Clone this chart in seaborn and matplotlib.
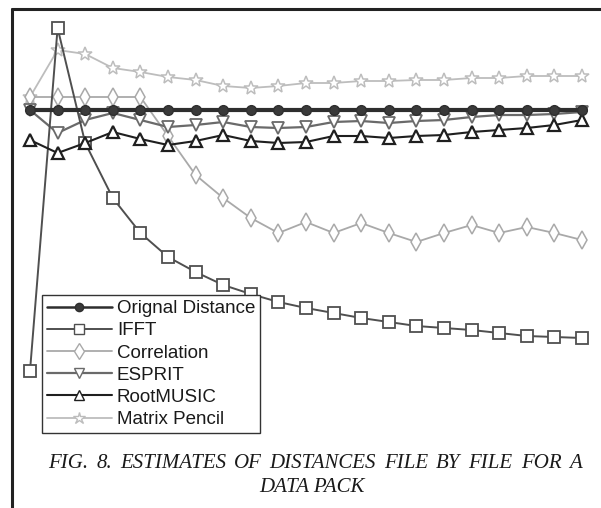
import matplotlib
matplotlib.use("Agg")
import matplotlib.pyplot as plt
from matplotlib.lines import Line2D
import seaborn as sns

# File index and distance estimates per method
files = list(range(1, 22))
original = [6.0] * 21
ifft = [0.78, 7.64, 5.34, 4.24, 3.54, 3.06, 2.76, 2.50, 2.32, 2.16, 2.04,
        1.94, 1.84, 1.76, 1.68, 1.64, 1.60, 1.54, 1.48, 1.46, 1.44]
correlation = [6.26, 6.26, 6.26, 6.26, 6.26, 5.48, 4.70, 4.24, 3.84, 3.54, 3.76,
               3.54, 3.74, 3.54, 3.36, 3.54, 3.70, 3.54, 3.66, 3.54, 3.40]
esprit = [6.00, 5.54, 5.80, 5.94, 5.80, 5.66, 5.70, 5.76, 5.66, 5.64, 5.66,
          5.76, 5.78, 5.74, 5.78, 5.80, 5.86, 5.90, 5.90, 5.92, 5.96]
rootmusic = [5.40, 5.14, 5.34, 5.56, 5.42, 5.30, 5.38, 5.50, 5.38, 5.34, 5.36,
             5.48, 5.48, 5.44, 5.48, 5.50, 5.56, 5.60, 5.64, 5.70, 5.80]
matrix_pencil = [6.26, 7.20, 7.12, 6.84, 6.76, 6.66, 6.60, 6.48, 6.44, 6.48, 6.54,
                 6.54, 6.58, 6.58, 6.60, 6.60, 6.64, 6.64, 6.68, 6.68, 6.68]

labels = ["Orignal Distance", "IFFT", "Correlation", "ESPRIT", "RootMUSIC", "Matrix Pencil"]
caption_1 = "FIG. 8. ESTIMATES OF DISTANCES FILE BY FILE FOR A"
caption_2 = "DATA PACK"

sns.set_theme(style="white")
plt.rcParams['font.family'] = ['Liberation Sans', 'DejaVu Sans']

W, H = 601, 508
fig = plt.figure(figsize=(W / 100, H / 100), dpi=100)
ax = fig.add_axes([0, 0, 1, 1])
ax.set_axis_off()

# (values, colour, marker, marker size, line width, face colour, edge width, zorder)
styles = [
    (original, "#2e2e2e", "o", 7.0, 3.0, "#3a3a3a", 1.0, 6),
    (ifft, "#4f4f4f", "s", 8.5, 1.4, "white", 1.3, 4),
    (correlation, "#a9a9a9", "d", 9.0, 1.3, "white", 1.1, 2),
    (esprit, "#6a6a6a", "v", 8.5, 1.6, "white", 1.3, 3),
    (rootmusic, "#1f1f1f", "^", 8.5, 1.5, "white", 1.6, 5),
    (matrix_pencil, "#bdbdbd", "*", 10.5, 1.3, "white", 1.1, 1),
]

for (vals, col, mk, ms, lw, fc, mew, z), lab in zip(styles, labels):
    sns.lineplot(x=files, y=vals, ax=ax, color=col, marker=mk, markersize=ms,
                 linewidth=lw, markerfacecolor=fc, markeredgecolor=col,
                 markeredgewidth=mew, zorder=z, errorbar=None, legend=False)

ax.set_xlim(1 - 30 / 27.6, 21 + 19 / 27.6)
ax.set_ylim(6 - 398 / 50, 6 + 110 / 50)

# Legend with thinner sample lines
handles = []
for (vals, col, mk, ms, lw, fc, mew, z), lab in zip(styles, labels):
    handles.append(Line2D([], [], color=col, marker=mk, markersize=ms * 0.85,
                          linewidth=min(lw, 1.8), markerfacecolor=fc,
                          markeredgecolor=col, markeredgewidth=1.0, label=lab))
leg = ax.legend(handles=handles, loc="upper left",
                bbox_to_anchor=(42 / W, 1 - 295 / H), bbox_transform=fig.transFigure,
                fontsize=13.5, frameon=True, fancybox=False, framealpha=1,
                edgecolor="#333333", borderaxespad=0, borderpad=0.27,
                handlelength=3.45, handletextpad=0.28, labelspacing=0.27)
leg.get_frame().set_linewidth(1.0)
for t in leg.get_texts():
    t.set_color("#1a1a1a")

# Surrounding frame lines
fig.add_artist(Line2D([12 / W, 1], [1 - 9 / H, 1 - 9 / H], transform=fig.transFigure,
                      color="#222222", lw=2.2))
fig.add_artist(Line2D([12 / W, 12 / W], [0, 1 - 9 / H], transform=fig.transFigure,
                      color="#222222", lw=2.2))

# Caption: justified first line, centred second line
cap_kw = dict(fontsize=15, family="Liberation Serif", style="italic",
              color="#1a1a1a", va="baseline")
renderer = fig.canvas.get_renderer()
words = caption_1.split()
texts = [fig.text(0, 1 - 468 / H, w, **cap_kw) for w in words]
widths = [t.get_window_extent(renderer).width for t in texts]
gap = (582 - 48 - sum(widths)) / (len(words) - 1)
x = 48
for t, w in zip(texts, widths):
    t.set_x(x / W)
    x += w + gap
fig.text(312 / W, 1 - 492 / H, caption_2, ha="center", **cap_kw)

fig.savefig("out.png", dpi=100)
